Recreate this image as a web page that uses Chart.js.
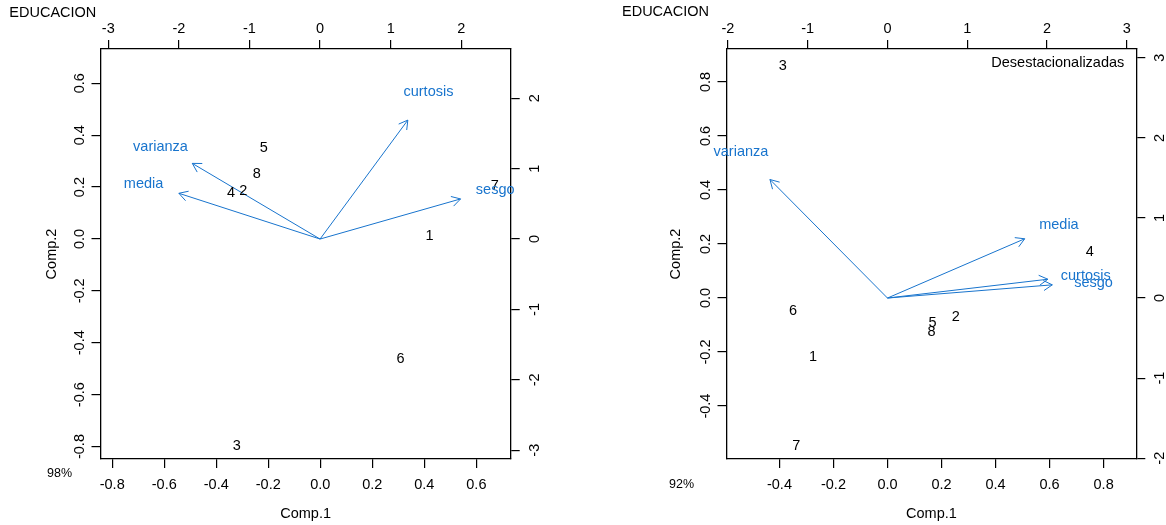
<!DOCTYPE html>
<html>
<head>
<meta charset="utf-8">
<script src="https://cdn.jsdelivr.net/npm/chart.js@4.4.0/dist/chart.umd.min.js"></script>
<style>
  body { margin: 0; background: #fff; }
  #wrap { position: relative; width: 1166px; height: 525px; }
  .pane { position: absolute; top: 0; width: 583px; height: 525px; }
</style>
</head>
<body>
<div id="wrap">
  <div class="pane" style="left:0"><canvas id="leftChart" width="583" height="525"></canvas></div>
  <div class="pane" style="left:583px"><canvas id="rightChart" width="583" height="525"></canvas></div>
</div>
<script>
const OBS_LABELS = ['1', '2', '3', '4', '5', '6', '7', '8'];
const VAR_LABELS = ['media', 'varianza', 'sesgo', 'curtosis'];

// left biplot (98%)
const L_SCORE_X = [0.420, -0.296, -0.321, -0.343, -0.217, 0.308, 0.671, -0.244];
const L_SCORE_Y = [0.013, 0.186, -0.798, 0.178, 0.352, -0.464, 0.205, 0.250];
const L_LOAD_X = [-2.50, -2.26, 2.48, 1.535];
const L_LOAD_Y = [0.781, 1.307, 0.692, 2.083];
const L_ARROW_X = [-2.00, -1.81, 1.99, 1.243];
const L_ARROW_Y = [0.650, 1.075, 0.570, 1.69];
const L_X_TICKS = [-0.8, -0.6, -0.4, -0.2, 0, 0.2, 0.4, 0.6];
const L_Y_TICKS = [-0.8, -0.6, -0.4, -0.2, 0, 0.2, 0.4, 0.6];
const L_X2_TICKS = [-3, -2, -1, 0, 1, 2];
const L_Y2_TICKS = [-3, -2, -1, 0, 1, 2];

// right biplot (92%, desestacionalizadas)
const R_SCORE_X = [-0.276, 0.253, -0.388, 0.749, 0.167, -0.350, -0.338, 0.163];
const R_SCORE_Y = [-0.219, -0.070, 0.858, 0.169, -0.093, -0.047, -0.548, -0.126];
const R_LOAD_X = [2.149, -1.837, 2.583, 2.485];
const R_LOAD_Y = [0.909, 1.829, 0.191, 0.275];
const R_ARROW_X = [1.72, -1.473, 2.066, 2.01];
const R_ARROW_Y = [0.740, 1.48, 0.165, 0.235];
const R_X_TICKS = [-0.4, -0.2, 0, 0.2, 0.4, 0.6, 0.8];
const R_Y_TICKS = [-0.4, -0.2, 0, 0.2, 0.4, 0.6, 0.8];
const R_X2_TICKS = [-2, -1, 0, 1, 2, 3];
const R_Y2_TICKS = [-2, -1, 0, 1, 2, 3];

const BLUE = '#1874CD';
const FONT = '"Liberation Sans", Arial, sans-serif';
const FS = 14.5;

Chart.defaults.font.family = FONT;
Chart.defaults.font.size = FS;
Chart.defaults.color = '#000';

function pts(xs, ys) {
  return xs.map((x, i) => ({ x: x, y: ys[i] }));
}

// draws the R-like extras: rotated y tick labels, text marks, arrow heads
const biplotText = {
  id: 'biplotText',
  afterDraw(chart, args, opts) {
    const ctx = chart.ctx;
    const area = chart.chartArea;
    ctx.save();
    ctx.textAlign = 'center';
    ctx.textBaseline = 'middle';
    ctx.font = FS + 'px ' + FONT;

    // rotated tick labels on the vertical axes
    [['y', area.left - 20.5, 1], ['y2', area.right + 24, 0]].forEach(([id, cx, dec]) => {
      const s = chart.scales[id];
      s.ticks.forEach(t => {
        const py = s.getPixelForValue(t.value);
        ctx.save();
        ctx.translate(cx, py);
        ctx.rotate(-Math.PI / 2);
        ctx.fillStyle = '#000';
        ctx.fillText(dec ? t.value.toFixed(1) : String(t.value), 0, 0);
        ctx.restore();
      });
    });

    // observation labels
    ctx.fillStyle = '#000';
    chart.getDatasetMeta(0).data.forEach((el, i) => {
      ctx.fillText(OBS_LABELS[i], el.x, el.y);
    });

    // variable labels
    ctx.fillStyle = BLUE;
    chart.getDatasetMeta(1).data.forEach((el, i) => {
      ctx.fillText(VAR_LABELS[i], el.x, el.y);
    });

    // arrow heads
    ctx.strokeStyle = BLUE;
    ctx.lineWidth = 1;
    for (let k = 2; k < chart.data.datasets.length; k++) {
      const d = chart.getDatasetMeta(k).data;
      const a = d[0], b = d[1];
      const ang = Math.atan2(b.y - a.y, b.x - a.x);
      const len = 10, spread = Math.PI / 6;
      ctx.beginPath();
      ctx.moveTo(b.x - len * Math.cos(ang - spread), b.y - len * Math.sin(ang - spread));
      ctx.lineTo(b.x, b.y);
      ctx.lineTo(b.x - len * Math.cos(ang + spread), b.y - len * Math.sin(ang + spread));
      ctx.stroke();
    }

    // plot title and footnotes
    ctx.fillStyle = '#000';
    ctx.textAlign = 'left';
    ctx.fillText('EDUCACION', opts.titleX, opts.titleY);
    ctx.font = '12.5px ' + FONT;
    ctx.textAlign = 'center';
    ctx.fillText(opts.pct, opts.pctX, opts.pctY);
    if (opts.note) {
      ctx.font = FS + 'px ' + FONT;
      ctx.textAlign = 'right';
      ctx.fillText(opts.note, area.right - 12, area.top + 14);
    }
    ctx.restore();
  }
};

function axis(pos, min, max, ticks, size, dec, extra) {
  const horiz = pos === 'top' || pos === 'bottom';
  return Object.assign({
    type: 'linear',
    position: pos,
    min: min,
    max: max,
    afterBuildTicks: s => { s.ticks = ticks.map(v => ({ value: v })); },
    afterFit: s => { if (horiz) s.height = size; else s.width = size; },
    grid: { drawOnChartArea: false, drawTicks: true, tickLength: 9, color: '#000', lineWidth: 1.2 },
    border: { display: true, color: '#000', width: 1.3 },
    ticks: {
      display: horiz,
      padding: pos === 'top' ? 2.5 : 8,
      maxRotation: 0,
      autoSkip: false,
      color: '#000',
      font: { size: FS },
      callback: v => dec ? Number(v).toFixed(1) : String(v)
    }
  }, extra || {});
}

function makeBiplot(id, cfg) {
  const datasets = [
    { data: pts(cfg.sx, cfg.sy), pointRadius: 0, xAxisID: 'x', yAxisID: 'y' },
    { data: pts(cfg.lx, cfg.ly), pointRadius: 0, xAxisID: 'x2', yAxisID: 'y2' }
  ];
  cfg.ax.forEach((x, i) => {
    datasets.push({
      data: [{ x: 0, y: 0 }, { x: x, y: cfg.ay[i] }],
      showLine: true, pointRadius: 0, borderColor: BLUE, borderWidth: 1,
      xAxisID: 'x2', yAxisID: 'y2', clip: false
    });
  });
  return new Chart(document.getElementById(id), {
    type: 'scatter',
    data: { datasets: datasets },
    options: {
      responsive: false,
      animation: false,
      devicePixelRatio: 1,
      events: [],
      layout: { padding: 0 },
      plugins: { legend: { display: false }, tooltip: { enabled: false }, biplotText: cfg.text },
      scales: {
        x: axis('bottom', cfg.xr[0], cfg.xr[1], cfg.xt, 66, 1,
          { title: { display: true, text: 'Comp.1', font: { size: FS }, padding: { top: 2.3, bottom: 2.3 } } }),
        y: axis('left', cfg.yr[0], cfg.yr[1], cfg.yt, cfg.leftW, 1,
          { title: { display: true, text: 'Comp.2', font: { size: FS }, padding: { top: cfg.ytPad, bottom: 0 } } }),
        x2: axis('top', cfg.x2r[0], cfg.x2r[1], cfg.x2t, 49, 0),
        y2: axis('right', cfg.y2r[0], cfg.y2r[1], cfg.y2t, cfg.rightW, 0)
      }
    },
    plugins: [biplotText]
  });
}

makeBiplot('leftChart', {
  sx: L_SCORE_X, sy: L_SCORE_Y, lx: L_LOAD_X, ly: L_LOAD_Y, ax: L_ARROW_X, ay: L_ARROW_Y,
  xr: [-0.845, 0.732], yr: [-0.848, 0.732], x2r: [-3.11, 2.70], y2r: [-3.125, 2.70],
  xt: L_X_TICKS, yt: L_Y_TICKS, x2t: L_X2_TICKS, y2t: L_Y2_TICKS,
  leftW: 100.5, rightW: 72.3, ytPad: 43.3,
  text: { titleX: 9.3, titleY: 12.7, pct: '98%', pctX: 59.5, pctY: 474 }
});

makeBiplot('rightChart', {
  sx: R_SCORE_X, sy: R_SCORE_Y, lx: R_LOAD_X, ly: R_LOAD_Y, ax: R_ARROW_X, ay: R_ARROW_Y,
  xr: [-0.596, 0.921], yr: [-0.596, 0.922], x2r: [-2.018, 3.119], y2r: [-2.01, 3.11],
  xt: R_X_TICKS, yt: R_Y_TICKS, x2t: R_X2_TICKS, y2t: R_Y2_TICKS,
  leftW: 143.5, rightW: 29.7, ytPad: 84.3,
  text: { titleX: 39, titleY: 11.7, pct: '92%', pctX: 98.5, pctY: 484.3, note: 'Desestacionalizadas' }
});
</script>
</body>
</html>
